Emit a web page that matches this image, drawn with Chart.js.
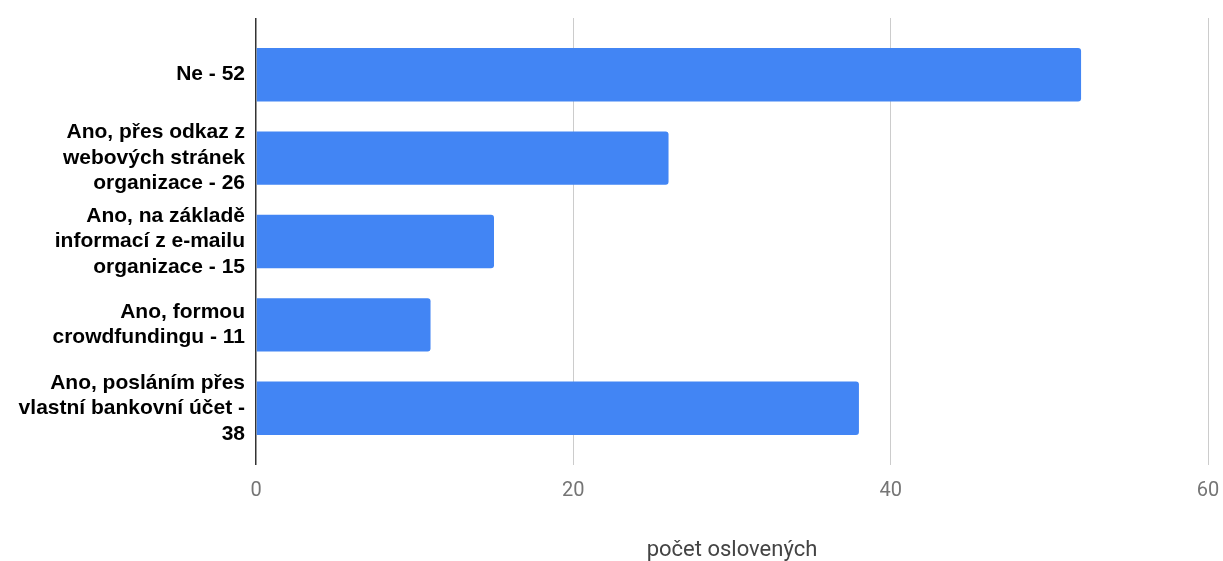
<!DOCTYPE html>
<html>
<head>
<meta charset="utf-8">
<script src="https://cdn.jsdelivr.net/npm/chart.js@4/dist/chart.umd.min.js"></script>
<style>
  html, body { margin: 0; padding: 0; background: #fff; }
  #wrap { width: 1223px; height: 561px; position: relative; }
</style>
</head>
<body>
<div id="wrap"><canvas id="chart"></canvas></div>
<script>
// data
const categories = [
  ['Ne - 52'],
  ['Ano, přes odkaz z', 'webových stránek', 'organizace - 26'],
  ['Ano, na základě', 'informací z e-mailu', 'organizace - 15'],
  ['Ano, formou', 'crowdfundingu - 11'],
  ['Ano, posláním přes', 'vlastní bankovní účet -', '38']
];
const values = [52, 26, 15, 11, 38];
const xMin = 0;
const xMax = 60;
const xStep = 20;
const axisTitle = 'počet oslovených';

// gridline colour: dark line at zero, light grey elsewhere
const gridColor = (c) => (c.tick && c.tick.value === 0 ? '#333333' : '#cccccc');
const gridWidth = (c) => (c.tick && c.tick.value === 0 ? 1.5 : 1);

Chart.defaults.font.family = 'Roboto, sans-serif';

new Chart(document.getElementById('chart'), {
  type: 'bar',
  data: {
    labels: categories,
    datasets: [{
      data: values,
      backgroundColor: '#4285f4',
      borderRadius: 3,
      borderSkipped: 'start',
      barPercentage: 0.64,
      categoryPercentage: 1
    }]
  },
  options: {
    indexAxis: 'y',
    responsive: true,
    maintainAspectRatio: false,
    animation: false,
    layout: { padding: { top: 18, right: 15, bottom: 0, left: 0 } },
    plugins: {
      legend: { display: false },
      tooltip: { enabled: false }
    },
    scales: {
      x: {
        position: 'bottom',
        min: xMin,
        max: xMax,
        border: { display: false },
        grid: {
          color: gridColor,
          lineWidth: gridWidth,
          drawTicks: true,
          tickLength: 15
        },
        ticks: {
          stepSize: xStep,
          padding: 14,
          color: '#757575',
          font: { size: 20 }
        },
        title: {
          display: true,
          text: axisTitle,
          color: '#444444',
          font: { size: 22, lineHeight: 1 },
          padding: { top: 0, bottom: 0 }
        },
        afterFit: (scale) => {
          scale.height = 111;
          scale.paddingLeft = 0;
          scale.paddingRight = 0;
        }
      },
      xTop: {
        position: 'top',
        type: 'linear',
        min: xMin,
        max: xMax,
        border: { display: false },
        grid: {
          color: gridColor,
          lineWidth: gridWidth,
          drawOnChartArea: false,
          drawTicks: true,
          tickLength: 15
        },
        ticks: { display: false, stepSize: xStep },
        afterFit: (scale) => {
          scale.height = 15;
          scale.paddingLeft = 0;
          scale.paddingRight = 0;
        }
      },
      y: {
        border: { display: false },
        grid: { display: false, drawTicks: false },
        ticks: {
          padding: 11,
          color: '#000000',
          font: { family: '"Liberation Sans", Arial, sans-serif', size: 21, weight: 'bold', lineHeight: 1.214 }
        },
        afterFit: (scale) => {
          scale.width = 256;
          scale.paddingTop = 0;
          scale.paddingBottom = 0;
        }
      }
    }
  }
});
</script>
</body>
</html>
